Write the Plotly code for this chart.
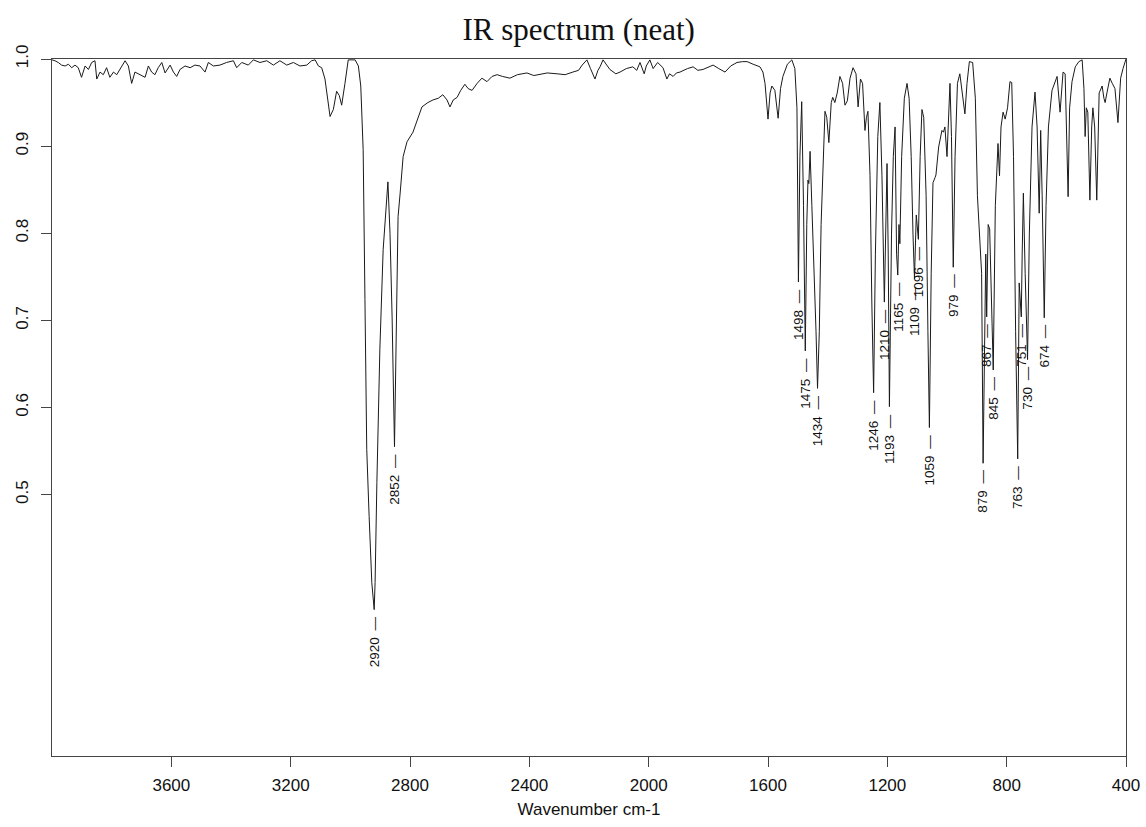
import plotly.graph_objects as go

# Spectrum (wavenumber in cm-1, relative transmittance)
wavenumber = [
    4000, 3990, 3979, 3968, 3956, 3945, 3934, 3923, 3912, 3901, 3889, 3878, 3867, 3856, 3850,
    3839, 3828, 3817, 3806, 3794, 3783, 3772, 3755, 3744, 3733, 3722, 3705, 3688, 3677, 3666,
    3655, 3644, 3632, 3621, 3604, 3593, 3582, 3571, 3554, 3537, 3521, 3504, 3487, 3476, 3459,
    3437, 3415, 3392, 3381, 3364, 3342, 3325, 3303, 3280, 3258, 3236, 3213, 3191, 3169, 3146,
    3130, 3118, 3107, 3096, 3085, 3074, 3068, 3057, 3046, 3037, 3029, 3018, 3007, 2984, 2973,
    2965, 2961, 2957, 2951, 2945, 2937, 2928, 2920, 2917, 2911, 2901, 2890, 2877, 2874, 2867,
    2860, 2852, 2847, 2840, 2833, 2823, 2810, 2800, 2790, 2760, 2740, 2723, 2705, 2690, 2676,
    2666, 2655, 2642, 2630, 2616, 2605, 2592, 2575, 2559, 2542, 2525, 2508, 2490, 2465, 2440,
    2408, 2385, 2364, 2340, 2307, 2280, 2254, 2235, 2223, 2207, 2195, 2180, 2170, 2163, 2153,
    2140, 2130, 2110, 2096, 2075, 2053, 2040, 2029, 2015, 2008, 1996, 1985, 1970, 1952, 1939,
    1930, 1918, 1907, 1895, 1870, 1851, 1835, 1818, 1800, 1784, 1765, 1744, 1725, 1704, 1685,
    1670, 1650, 1627, 1617, 1610, 1600, 1593, 1587, 1577, 1566, 1558, 1550, 1535, 1520, 1510,
    1503, 1498, 1493, 1487, 1481, 1475, 1470, 1466, 1463, 1459, 1453, 1445, 1439, 1434, 1428,
    1422, 1415, 1409, 1403, 1396, 1388, 1383, 1376, 1368, 1359, 1350, 1342, 1334, 1325, 1315,
    1305, 1298, 1290, 1283, 1275, 1270, 1265, 1258, 1252, 1246, 1240, 1232, 1225, 1218, 1210,
    1205, 1201, 1197, 1193, 1186, 1180, 1174, 1169, 1165, 1161, 1158, 1152, 1143, 1134, 1127,
    1120, 1114, 1109, 1103, 1096, 1090, 1084, 1078, 1070, 1064, 1059, 1053, 1047, 1040, 1037,
    1028, 1017, 1012, 1007, 1000, 994, 990, 985, 979, 973, 965, 957, 948, 940, 933,
    925, 914, 905, 898, 890, 884, 879, 874, 870, 867, 862, 857, 851, 845, 838,
    829, 824, 819, 812, 805, 797, 789, 783, 777, 770, 763, 758, 755, 751, 748,
    744, 738, 730, 724, 715, 705, 698, 691, 686, 681, 674, 668, 660, 648, 640,
    631, 621, 611, 604, 599, 594, 589, 581, 570, 558, 547, 541, 537, 533, 528,
    521, 515, 511, 505, 498, 490, 480, 474, 470, 464, 454, 446, 437, 427, 418,
    410, 400,
]
transmittance = [
    0.999, 0.998, 0.996, 0.993, 0.992, 0.994, 0.990, 0.993, 0.990, 0.979, 0.992, 0.988, 0.996, 0.998, 0.977,
    0.985, 0.982, 0.990, 0.979, 0.985, 0.982, 0.988, 0.998, 0.992, 0.972, 0.985, 0.982, 0.979, 0.992, 0.985,
    0.982, 0.990, 0.996, 0.984, 0.993, 0.985, 0.980, 0.988, 0.992, 0.990, 0.993, 0.992, 0.985, 0.996, 0.992,
    0.993, 0.996, 0.998, 0.990, 0.996, 0.993, 0.999, 0.996, 0.998, 0.993, 0.998, 0.993, 0.996, 0.992, 0.993,
    0.998, 0.999, 0.992, 0.990, 0.977, 0.945, 0.934, 0.942, 0.963, 0.958, 0.947, 0.972, 0.999, 0.999, 0.992,
    0.969, 0.939, 0.896, 0.724, 0.552, 0.475, 0.399, 0.368, 0.399, 0.514, 0.667, 0.781, 0.850, 0.859, 0.800,
    0.704, 0.555, 0.667, 0.819, 0.846, 0.888, 0.905, 0.911, 0.916, 0.945, 0.950, 0.953, 0.955, 0.959, 0.953,
    0.945, 0.953, 0.956, 0.964, 0.971, 0.966, 0.964, 0.972, 0.978, 0.974, 0.980, 0.982, 0.980, 0.978, 0.982,
    0.984, 0.981, 0.982, 0.984, 0.983, 0.982, 0.985, 0.987, 0.993, 0.999, 0.989, 0.977, 0.987, 0.991, 0.999,
    0.992, 0.988, 0.983, 0.985, 0.989, 0.991, 0.987, 0.996, 0.983, 0.992, 0.999, 0.989, 0.996, 0.990, 0.977,
    0.983, 0.980, 0.984, 0.985, 0.989, 0.991, 0.987, 0.988, 0.991, 0.993, 0.989, 0.985, 0.992, 0.996, 0.997,
    0.997, 0.994, 0.991, 0.985, 0.972, 0.931, 0.961, 0.969, 0.964, 0.932, 0.966, 0.980, 0.994, 0.999, 0.989,
    0.944, 0.744, 0.888, 0.951, 0.832, 0.665, 0.810, 0.861, 0.857, 0.894, 0.832, 0.754, 0.687, 0.622, 0.687,
    0.810, 0.888, 0.940, 0.933, 0.904, 0.950, 0.956, 0.950, 0.961, 0.980, 0.972, 0.947, 0.952, 0.978, 0.990,
    0.983, 0.945, 0.977, 0.972, 0.918, 0.933, 0.940, 0.866, 0.721, 0.617, 0.776, 0.911, 0.950, 0.866, 0.721,
    0.832, 0.880, 0.776, 0.601, 0.799, 0.888, 0.922, 0.776, 0.752, 0.810, 0.788, 0.888, 0.955, 0.972, 0.955,
    0.888, 0.799, 0.748, 0.821, 0.793, 0.888, 0.942, 0.933, 0.843, 0.687, 0.577, 0.754, 0.858, 0.864, 0.867,
    0.899, 0.918, 0.916, 0.922, 0.888, 0.944, 0.972, 0.911, 0.761, 0.888, 0.972, 0.983, 0.961, 0.937, 0.972,
    0.997, 0.996, 0.955, 0.843, 0.788, 0.754, 0.536, 0.721, 0.776, 0.704, 0.810, 0.805, 0.732, 0.643, 0.832,
    0.903, 0.866, 0.922, 0.939, 0.931, 0.944, 0.974, 0.973, 0.888, 0.687, 0.541, 0.743, 0.723, 0.704, 0.776,
    0.846, 0.754, 0.655, 0.799, 0.922, 0.962, 0.922, 0.823, 0.918, 0.843, 0.703, 0.832, 0.922, 0.964, 0.972,
    0.980, 0.939, 0.985, 0.983, 0.922, 0.842, 0.944, 0.974, 0.991, 0.997, 0.999, 0.966, 0.911, 0.944, 0.939,
    0.838, 0.922, 0.944, 0.922, 0.838, 0.961, 0.969, 0.955, 0.950, 0.961, 0.978, 0.972, 0.966, 0.927, 0.978,
    0.989, 1.000,
]

# Labelled peaks
peak_wavenumbers = [2920, 2852, 1498, 1475, 1434, 1246, 1210, 1193, 1165, 1109, 1096,
                    1059, 979, 879, 867, 845, 763, 751, 730, 674]

x_tick_values = [3600, 3200, 2800, 2400, 2000, 1600, 1200, 800, 400]
y_tick_values = [0.5, 0.6, 0.7, 0.8, 0.9, 1.0]
y_tick_labels = ["0.5", "0.6", "0.7", "0.8", "0.9", "1.0"]

fig = go.Figure()
fig.add_trace(go.Scatter(
    x=wavenumber, y=transmittance, mode="lines",
    line=dict(color="#1a1a1a", width=1), hoverinfo="skip", showlegend=False,
))

lookup = dict(zip(wavenumber, transmittance))
for wn in peak_wavenumbers:
    fig.add_annotation(
        x=wn, y=lookup[wn], text=f"{wn}\u2002\u2014", showarrow=False,
        textangle=-90, xanchor="center", yanchor="top", yshift=-5,
        font=dict(family="Liberation Sans, Arial", size=13.5, color="#111"),
    )

axis_font = dict(family="Liberation Sans, Arial", size=17, color="#111")
fig.update_layout(
    width=1146, height=827,
    margin=dict(l=52, r=20, t=59, b=71),
    paper_bgcolor="white", plot_bgcolor="white",
    title=dict(text="IR spectrum (neat)", x=0.505, xanchor="center", y=0.965, yanchor="middle",
               font=dict(family="Liberation Serif, Times New Roman", size=31, color="#111")),
    xaxis=dict(
        range=[4000, 400], tickvals=x_tick_values, ticks="outside", ticklen=10,
        tickcolor="#444", showline=True, linecolor="#444", linewidth=1, mirror=True,
        showgrid=False, zeroline=False, tickfont=axis_font, ticklabelstandoff=4,
        automargin=False,
        title=dict(text="Wavenumber cm-1", standoff=8, font=axis_font),
    ),
    yaxis=dict(
        range=[0.2, 1.0], tickvals=y_tick_values, ticktext=y_tick_labels, tickangle=-90,
        ticks="outside", ticklen=10, tickcolor="#444", showline=True, linecolor="#444",
        linewidth=1, mirror=True, showgrid=False, zeroline=False, automargin=False,
        tickfont=axis_font, ticklabelstandoff=6,
    ),
)

fig.write_html("out.html")
